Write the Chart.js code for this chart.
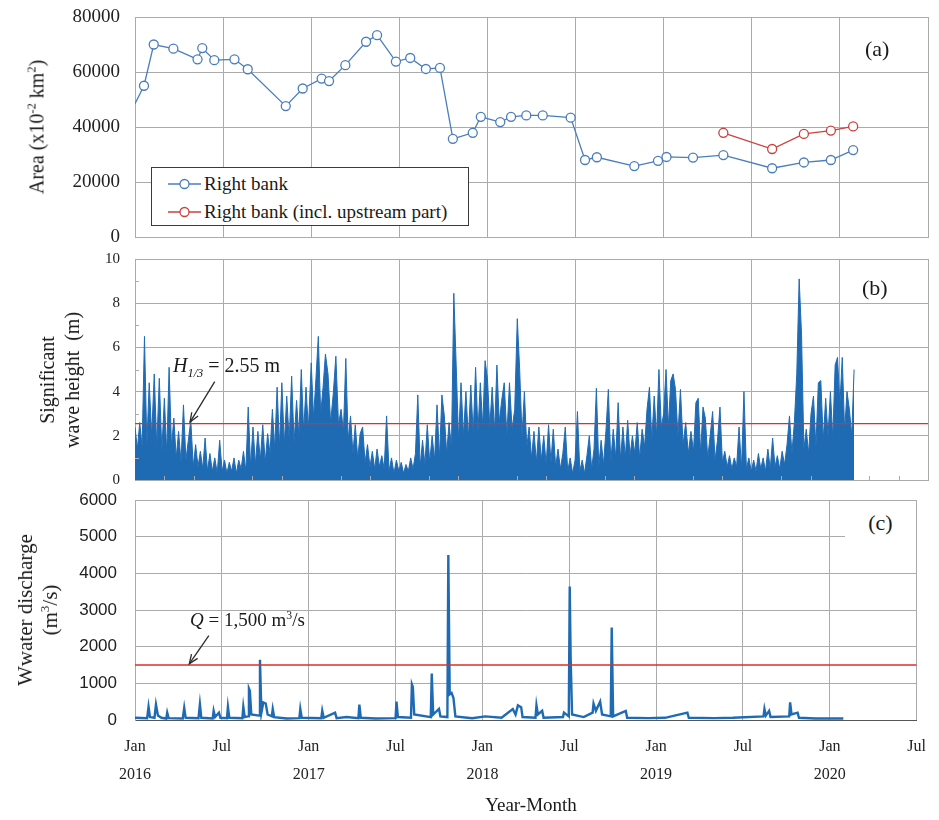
<!DOCTYPE html>
<html>
<head>
<meta charset="utf-8">
<script src="https://cdn.jsdelivr.net/npm/chart.js@4.4.0/dist/chart.umd.min.js"></script>
<style>
  body { margin: 0; background: #fff; }
  #wrap { position: relative; width: 939px; height: 820px; font-family: "Liberation Serif", "Times New Roman", serif; color: #1a1a1a; overflow: hidden; }
  canvas { position: absolute; left: 0; }
  .lbl { position: absolute; white-space: nowrap; }
  .rot { position: absolute; transform: translate(-50%, -50%) rotate(-90deg); text-align: center; white-space: nowrap; }
  sup, sub { font-size: 62%; line-height: 0; }
  #legend { position: absolute; left: 151px; top: 167px; width: 316px; height: 57px; border: 1px solid #3a3a3a; background: #fff; font-size: 19px; }
  #legend .row { position: absolute; left: 16px; height: 22px; display: flex; align-items: center; }
  #legend svg { margin-right: 3px; }
</style>
</head>
<body>
<div id="wrap">
  <canvas id="cA" width="939" height="265" style="top:0"></canvas>
  <canvas id="cB" width="939" height="260" style="top:245px"></canvas>
  <canvas id="cC" width="939" height="335" style="top:485px"></canvas>

  <div class="rot" style="left:37px;top:127px;font-size:20px">Area (x10<sup>-2</sup> km<sup>2</sup>)</div>
  <div class="rot" style="left:60px;top:380px;font-size:20px;line-height:25px">Significant<br>wave height&nbsp; (m)</div>
  <div class="rot" style="left:38px;top:610px;font-size:21px;line-height:25px">Wwater discharge<br>(m<sup>3</sup>/s)</div>

  <div class="lbl" style="left:865px;top:36px;font-size:22px">(a)</div>
  <div class="lbl" style="left:862px;top:275px;font-size:22px">(b)</div>
  <div class="lbl" style="left:845px;top:507px;width:71px;height:31px;background:#fff;text-align:center;font-size:22px;line-height:31px">(c)</div>

  <div id="legend">
    <div class="row" style="top:5px">
      <svg width="33" height="12"><line x1="0" y1="6" x2="33" y2="6" stroke="#4a7ebb" stroke-width="1.3"/><circle cx="16.5" cy="6" r="4.5" fill="#fff" stroke="#4a7ebb" stroke-width="1.3"/></svg>
      <span>Right bank</span>
    </div>
    <div class="row" style="top:33px">
      <svg width="33" height="12"><line x1="0" y1="6" x2="33" y2="6" stroke="#c9423f" stroke-width="1.3"/><circle cx="16.5" cy="6" r="4.5" fill="#fff" stroke="#c9423f" stroke-width="1.3"/></svg>
      <span>Right bank (incl. upstream part)</span>
    </div>
  </div>

  <div class="lbl" style="left:173px;top:354px;font-size:20px"><i>H</i><sub><i>1/3</i></sub> = 2.55 m</div>
  <div class="lbl" style="left:190px;top:609px;font-size:19px"><i>Q</i> = 1,500 m<sup>3</sup>/s</div>
  <div class="lbl" style="left:531px;top:794px;transform:translateX(-50%);font-size:19px">Year-Month</div>
</div>

<script>
// ==============================
// Data
// ==============================
const tickMonths = [0, 6, 12, 18, 24, 30, 36, 42, 48, 54];
const tickMonthNames = ["Jan", "Jul", "Jan", "Jul", "Jan", "Jul", "Jan", "Jul", "Jan", "Jul"];
const tickYears = ["2016", "", "2017", "", "2018", "", "2019", "", "2020", ""];

// (a) area, right bank
const areaDates = [
  "2016-01-01", "2016-01-20", "2016-02-09", "2016-03-20", "2016-05-09", "2016-05-19", "2016-06-13",
  "2016-07-25", "2016-08-22", "2016-11-09", "2016-12-14", "2017-01-23", "2017-02-07", "2017-03-11",
  "2017-04-23", "2017-05-16", "2017-06-24", "2017-07-24", "2017-08-26", "2017-09-24", "2017-10-21",
  "2017-12-01", "2017-12-18", "2018-01-28", "2018-02-18", "2018-03-21", "2018-04-24", "2018-06-21",
  "2018-07-21", "2018-08-15", "2018-11-01", "2018-12-20", "2019-01-07", "2019-03-01", "2019-05-03",
  "2019-08-13", "2019-10-18", "2019-12-13", "2020-01-29"
];
const areaRight = [
  48500, 55000, 70000, 68500, 64600, 68700, 64300,
  64600, 61000, 47600, 54000, 57600, 56700, 62500,
  71000, 73400, 63800, 65100, 61100, 61500, 35700,
  37900, 43700, 41800, 43700, 44200, 44200, 43400,
  28000, 29000, 25800, 27700, 29100, 28900, 29800,
  25000, 27100, 28000, 31600
];
// (a) area, right bank incl. upstream part
const areaUpDates = ["2019-05-03", "2019-08-13", "2019-10-18", "2019-12-13", "2020-01-29"];
const areaUp = [37900, 32000, 37500, 38700, 40200];

// (b) significant wave height, one value every 5 days from 1 Jan of each year
const wave2016 = [2.4, 1.4, 2.6, 1.5, 6.5, 1.6, 4.4, 2.0, 4.8, 1.5, 4.6, 1.3, 3.7, 1.2, 5.1, 1.5, 2.8, 1.0, 2.2, 0.8,
  3.4, 0.9, 1.8, 2.7, 0.6, 1.6, 0.6, 1.3, 0.5, 1.9, 0.4, 1.2, 0.4, 1.0, 0.3, 1.8, 0.4, 0.9, 0.3, 0.8,
  0.4, 1.0, 0.3, 0.9, 0.5, 1.3, 0.4, 3.3, 0.6, 2.4, 0.7, 2.2, 0.9, 2.5, 0.8, 2.1, 1.2, 3.2, 1.4, 4.2,
  1.5, 4.4, 1.6, 3.8, 1.8, 4.7, 1.7, 3.6, 2.0, 5.0, 2.2, 4.2, 2.3];
const wave2017 = [5.3, 2.8, 4.6, 6.5, 3.0, 4.2, 5.7, 4.8, 2.6, 3.9, 5.6, 2.5, 3.2, 2.2, 5.5, 1.8, 2.9, 1.2, 2.5, 1.0,
  2.1, 2.4, 0.8, 1.6, 0.6, 1.3, 0.5, 1.4, 0.6, 1.1, 0.5, 2.9, 0.4, 1.0, 0.3, 0.9, 0.4, 0.8, 0.3, 0.7,
  0.4, 1.0, 0.5, 1.2, 3.85, 0.6, 1.8, 0.7, 2.5, 0.8, 2.0, 0.9, 3.4, 1.0, 3.85, 2.9, 1.2, 2.6, 1.4, 8.45,
  5.2, 1.8, 4.4, 2.0, 4.0, 1.9, 4.3, 2.1, 5.1, 2.2, 4.4, 2.4, 5.4];
const wave2018 = [4.6, 2.4, 4.2, 2.2, 5.2, 2.6, 3.6, 4.4, 2.0, 4.4, 2.3, 3.2, 7.3, 5.0, 2.0, 4.0, 1.5, 2.4, 1.0, 2.2,
  0.8, 2.4, 0.9, 2.0, 0.7, 2.5, 0.8, 2.3, 0.6, 1.4, 0.5, 1.2, 2.4, 0.4, 1.0, 0.3, 0.9, 3.1, 0.4, 0.9,
  0.3, 1.1, 2.0, 0.5, 1.4, 4.15, 0.6, 1.8, 0.7, 2.2, 4.1, 0.8, 2.3, 1.0, 3.5, 0.9, 2.4, 1.0, 2.7, 1.1,
  2.0, 1.2, 2.6, 1.0, 2.3, 1.5, 3.2, 4.2, 1.8, 3.8, 2.0, 5.0, 2.4];
const wave2019 = [3.0, 5.0, 2.4, 4.5, 4.8, 4.1, 2.0, 4.1, 1.6, 2.6, 1.2, 2.2, 1.3, 3.5, 3.7, 1.2, 3.3, 2.8, 1.0, 2.0,
  3.1, 0.9, 1.8, 3.3, 0.8, 1.3, 0.6, 1.1, 0.5, 1.0, 0.6, 2.4, 0.5, 4.0, 0.5, 1.0, 0.4, 0.9, 0.4, 1.2,
  0.5, 1.0, 0.4, 1.4, 0.5, 1.9, 0.6, 1.1, 0.5, 1.3, 0.7, 1.6, 2.9, 1.2, 2.6, 4.8, 9.1, 6.6, 1.4, 2.3,
  1.2, 3.0, 3.8, 1.5, 4.4, 4.5, 1.8, 3.7, 2.0, 4.0, 1.9, 5.2, 5.55];
const wave2020 = [3.4, 5.55, 2.2, 4.0, 3.2, 2.0, 5.0];
const waveThreshold = 2.55;

// (c) water discharge
const dischargeDates = [
  "2016-01-01", "2016-01-27", "2016-01-30", "2016-02-02", "2016-02-11", "2016-02-14", "2016-02-18", "2016-02-25",
  "2016-03-06", "2016-03-08", "2016-03-11", "2016-04-10", "2016-04-13", "2016-04-16", "2016-05-13", "2016-05-16",
  "2016-05-19", "2016-06-12", "2016-06-14", "2016-06-17", "2016-06-25", "2016-06-28", "2016-07-12", "2016-07-14",
  "2016-07-17", "2016-08-14", "2016-08-16", "2016-08-19", "2016-08-26", "2016-08-28", "2016-08-30", "2016-09-02",
  "2016-09-18", "2016-09-20", "2016-09-23", "2016-09-27", "2016-10-02", "2016-10-06", "2016-10-15", "2016-10-17",
  "2016-10-20", "2016-11-15", "2016-12-12", "2016-12-14", "2016-12-17", "2017-01-28", "2017-01-30", "2017-02-02",
  "2017-02-24", "2017-02-27", "2017-03-20", "2017-04-14", "2017-04-16", "2017-04-19", "2017-05-20", "2017-07-01",
  "2017-07-03", "2017-07-06", "2017-08-03", "2017-08-05", "2017-08-07", "2017-08-10", "2017-09-14", "2017-09-16",
  "2017-09-19", "2017-10-01", "2017-10-04", "2017-10-19", "2017-10-21", "2017-10-24", "2017-10-28", "2017-11-01",
  "2017-11-05", "2017-12-10", "2018-01-07", "2018-02-10", "2018-03-04", "2018-03-10", "2018-03-15", "2018-03-22",
  "2018-03-25", "2018-04-21", "2018-04-23", "2018-04-26", "2018-05-05", "2018-05-08", "2018-06-18", "2018-06-20",
  "2018-06-30", "2018-07-02", "2018-07-04", "2018-07-07", "2018-08-01", "2018-08-20", "2018-08-22", "2018-08-27",
  "2018-09-05", "2018-09-09", "2018-09-27", "2018-09-29", "2018-10-02", "2018-10-29", "2018-11-01", "2018-12-15",
  "2019-01-20", "2019-03-06", "2019-03-09", "2019-05-01", "2019-06-10", "2019-08-14", "2019-08-16", "2019-08-19",
  "2019-08-26", "2019-08-29", "2019-10-07", "2019-10-09", "2019-10-12", "2019-10-25", "2019-10-28", "2019-12-01",
  "2020-01-30"
];
const dischargeValues = [
  60, 50, 360, 80, 60, 420, 120, 60,
  40, 200, 50, 40, 330, 60, 50, 430,
  60, 40, 250, 80, 200, 60, 50, 360,
  60, 50, 360, 80, 100, 860, 800, 150,
  120, 1640, 200, 480, 450, 150, 100, 300,
  80, 40, 50, 300, 60, 50, 250, 60,
  200, 50, 80, 50, 420, 60, 40, 50,
  500, 80, 60, 970, 900, 150, 80, 1270,
  150, 300, 100, 80, 4500, 700, 740, 600,
  100, 50, 100, 60, 300, 150, 400, 350,
  80, 60, 400, 150, 250, 60, 80, 200,
  100, 3640, 1700, 150, 80, 200, 450, 250,
  500, 150, 100, 2520, 100, 250, 60, 50,
  60, 200, 60, 50, 60, 100, 300, 120,
  250, 80, 100, 480, 150, 200, 60, 40,
  40
];
const dischargeThreshold = 1500;

// ==============================
// Helpers
// ==============================
const SERIF = '"Liberation Serif", "Times New Roman", serif';
const SANS = '"Liberation Sans", Arial, sans-serif';
const GRID = "#ababab";
const BLUE_AREA = "#4a7ebb";
const RED_AREA = "#c9423f";
const BLUE_TS = "#1f6bb3";
const RED_LINE = "#d8312c";

Chart.defaults.font.family = SERIF;

function monthPosDate(d) {
  const y = d.getUTCFullYear(), m = d.getUTCMonth();
  const dim = new Date(Date.UTC(y, m + 1, 0)).getUTCDate();
  return (y - 2016) * 12 + m + (d.getUTCDate() - 1) / dim;
}
function monthPos(str) {
  const [y, m, d] = str.split("-").map(Number);
  return monthPosDate(new Date(Date.UTC(y, m - 1, d)));
}
const pairs = (dates, vals) => dates.map((d, i) => ({ x: monthPos(d), y: vals[i] }));
const waveSeries = (year, vals) =>
  vals.map((v, i) => ({ x: monthPosDate(new Date(Date.UTC(year, 0, 1 + 5 * i))), y: v }));

const wavePoints = [
  ...waveSeries(2016, wave2016), ...waveSeries(2017, wave2017), ...waveSeries(2018, wave2018),
  ...waveSeries(2019, wave2019), ...waveSeries(2020, wave2020)
];
const hLine = v => [{ x: 0, y: v }, { x: 54, y: v }];

// move the plot area to where it sits in the reference (canvas pixels)
function pinArea(chart, box) {
  for (let k = 0; k < 3; k++) {
    const ca = chart.chartArea, p = chart.options.layout.padding;
    p.top += box.top - ca.top;
    p.bottom += ca.bottom - box.bottom;
    p.left += box.left - ca.left;
    p.right += ca.right - box.right;
    chart.update();
  }
}

// ==============================
// Axes
// ==============================
function xAxis(withLabels) {
  return {
    type: "linear", min: 0, max: 54,
    afterBuildTicks: s => { s.ticks = tickMonths.map(v => ({ value: v })); },
    afterFit: s => { s.height = withLabels ? 100 : 0; },
    grid: { color: GRID, lineWidth: 1, drawTicks: false },
    border: { color: withLabels ? "#555" : GRID, width: 1 },
    ticks: {
      display: withLabels, autoSkip: false, maxRotation: 0, padding: 13, color: "#222",
      font: { family: SERIF, size: 16, lineHeight: 1.75 },
      callback: (v, i) => [tickMonthNames[i], tickYears[i]]
    }
  };
}
function yAxis(max, step, font, pad) {
  return {
    min: 0, max: max,
    // fixed width, and no extra room asked for the end labels
    afterFit: s => { s.width = 135; s.paddingTop = 0; s.paddingBottom = 0; },
    grid: { color: GRID, lineWidth: 1, drawTicks: false },
    border: { color: GRID, width: 1 },
    ticks: { stepSize: step, padding: pad, color: "#222", font: font, callback: v => String(v) }
  };
}

// ==============================
// Extras: arrows and minor ticks
// ==============================
const extras = {
  id: "extras",
  afterDatasetsDraw(chart, args, opts) {
    const { ctx, scales: { x, y } } = chart;
    ctx.save();
    if (opts.minorY) {
      ctx.strokeStyle = GRID; ctx.lineWidth = 1;
      opts.minorY.forEach(v => {
        const py = Math.round(y.getPixelForValue(v)) + 0.5;
        ctx.beginPath(); ctx.moveTo(x.left, py); ctx.lineTo(x.left + 4, py); ctx.stroke();
      });
    }
    if (opts.minorX) {
      ctx.strokeStyle = GRID; ctx.lineWidth = 1;
      opts.minorX.forEach(v => {
        const px = Math.round(x.getPixelForValue(v)) + 0.5;
        ctx.beginPath(); ctx.moveTo(px, y.bottom); ctx.lineTo(px, y.bottom - 4); ctx.stroke();
      });
    }
    if (opts.arrow) {
      const x1 = x.getPixelForValue(opts.arrow.from[0]), y1 = y.getPixelForValue(opts.arrow.from[1]);
      const x2 = x.getPixelForValue(opts.arrow.to[0]), y2 = y.getPixelForValue(opts.arrow.to[1]);
      const a = Math.atan2(y2 - y1, x2 - x1), L = 10;
      ctx.strokeStyle = "#2b2b2b"; ctx.lineWidth = 1.3;
      ctx.beginPath(); ctx.moveTo(x1, y1); ctx.lineTo(x2, y2); ctx.stroke();
      ctx.beginPath();
      ctx.moveTo(x2 - L * Math.cos(a - 0.38), y2 - L * Math.sin(a - 0.38));
      ctx.lineTo(x2, y2);
      ctx.lineTo(x2 - L * Math.cos(a + 0.38), y2 - L * Math.sin(a + 0.38));
      ctx.stroke();
    }
    ctx.restore();
  }
};

const common = { responsive: false, animation: false, devicePixelRatio: 1 };

// ==============================
// (a) Area
// ==============================
const chartA = new Chart(document.getElementById("cA"), {
  type: "line",
  data: {
    datasets: [
      {
        label: "Right bank (incl. upstream part)", data: pairs(areaUpDates, areaUp),
        borderColor: RED_AREA, borderWidth: 1.3, pointRadius: 4.5, pointBorderWidth: 1.3,
        pointBackgroundColor: "#fff", pointBorderColor: RED_AREA
      },
      {
        label: "Right bank", data: pairs(areaDates, areaRight),
        borderColor: BLUE_AREA, borderWidth: 1.3, pointBorderWidth: 1.3,
        pointRadius: c => c.dataIndex === 0 ? 0 : 4.5,
        pointBackgroundColor: "#fff", pointBorderColor: BLUE_AREA
      }
    ]
  },
  options: {
    ...common,
    layout: { padding: { top: 17, bottom: 28, left: 0, right: 11 } },
    plugins: { legend: { display: false }, tooltip: { enabled: false } },
    scales: { x: xAxis(false), y: yAxis(80000, 20000, { family: SERIF, size: 19 }, 15) }
  }
});
pinArea(chartA, { top: 17, bottom: 237, left: 135, right: 928 });

// ==============================
// (b) Wave height
// ==============================
const chartB = new Chart(document.getElementById("cB"), {
  type: "line",
  data: {
    datasets: [
      { data: hLine(waveThreshold), borderColor: RED_LINE, borderWidth: 1.3, pointRadius: 0, order: 0 },
      {
        data: wavePoints, borderColor: BLUE_TS, backgroundColor: BLUE_TS, borderWidth: 1,
        pointRadius: 0, fill: "origin", order: 1
      }
    ]
  },
  plugins: [extras],
  options: {
    ...common,
    layout: { padding: { top: 14, bottom: 25, left: 0, right: 11 } },
    plugins: {
      legend: { display: false }, tooltip: { enabled: false },
      extras: {
        minorY: [1, 3, 5, 7, 9],
        minorX: [2, 4, 8, 10, 14, 16, 20, 22, 26, 28, 32, 34, 38, 40, 44, 46, 50, 52],
        arrow: { from: [5.43, 4.45], to: [3.75, 2.62] }
      }
    },
    scales: { x: xAxis(false), y: yAxis(10, 2, { family: SERIF, size: 15 }, 15) }
  }
});
pinArea(chartB, { top: 14, bottom: 235, left: 135, right: 928 });

// ==============================
// (c) Discharge
// ==============================
const chartC = new Chart(document.getElementById("cC"), {
  type: "line",
  data: {
    datasets: [
      { data: hLine(dischargeThreshold), borderColor: RED_LINE, borderWidth: 1.3, pointRadius: 0, order: 0 },
      {
        data: pairs(dischargeDates, dischargeValues), borderColor: BLUE_TS, borderWidth: 2.4,
        pointRadius: 0, order: 1
      }
    ]
  },
  plugins: [extras],
  options: {
    ...common,
    layout: { padding: { top: 15, bottom: 0, left: 0, right: 11 } },
    plugins: {
      legend: { display: false }, tooltip: { enabled: false },
      extras: { arrow: { from: [5.1, 2300], to: [3.75, 1530] } }
    },
    scales: { x: xAxis(true), y: yAxis(6000, 1000, { family: SANS, size: 17 }, 18) }
  }
});
pinArea(chartC, { top: 15, bottom: 235, left: 135, right: 928 });
</script>
</body>
</html>
